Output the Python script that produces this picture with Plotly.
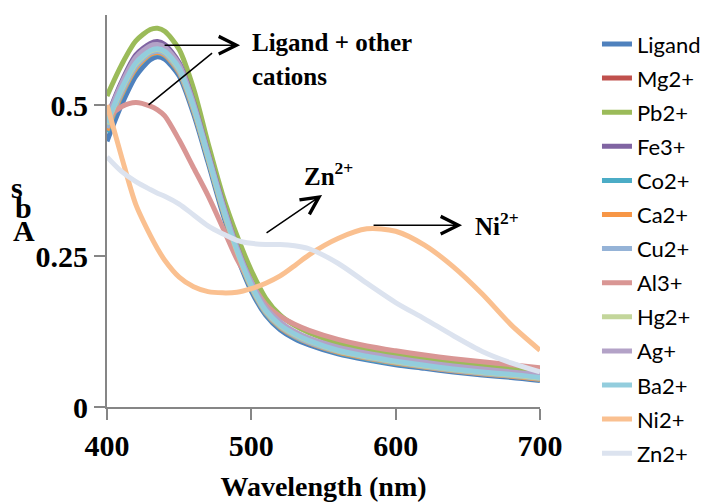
import plotly.graph_objects as go

# Wavelength grid (nm)
wavelength = [400, 410, 420, 430, 435, 440, 450, 460, 470, 480, 490, 500, 510,
              520, 530, 540, 560, 580, 600, 620, 640, 660, 680, 700]

# Absorbance spectra
ligand = [0.440, 0.500, 0.548, 0.575, 0.580, 0.576, 0.548, 0.485, 0.405, 0.322, 0.250, 0.192, 0.152,
          0.128, 0.113, 0.103, 0.088, 0.078, 0.070, 0.064, 0.058, 0.053, 0.049, 0.044]
mg = [0.465, 0.522, 0.566, 0.588, 0.591, 0.587, 0.558, 0.495, 0.413, 0.330, 0.257, 0.199, 0.158,
      0.134, 0.119, 0.108, 0.093, 0.083, 0.075, 0.068, 0.062, 0.057, 0.053, 0.048]
pb = [0.515, 0.566, 0.606, 0.625, 0.627, 0.622, 0.592, 0.527, 0.437, 0.352, 0.284, 0.226, 0.180,
      0.152, 0.135, 0.123, 0.106, 0.096, 0.088, 0.081, 0.075, 0.070, 0.065, 0.060]
fe = [0.480, 0.538, 0.583, 0.602, 0.605, 0.600, 0.570, 0.505, 0.422, 0.340, 0.266, 0.207, 0.164,
      0.139, 0.123, 0.112, 0.097, 0.087, 0.079, 0.072, 0.066, 0.061, 0.056, 0.052]
co = [0.455, 0.515, 0.560, 0.583, 0.586, 0.582, 0.553, 0.490, 0.410, 0.327, 0.254, 0.196, 0.155,
      0.131, 0.116, 0.106, 0.090, 0.080, 0.072, 0.066, 0.060, 0.055, 0.051, 0.046]
ca = [0.458, 0.517, 0.561, 0.584, 0.587, 0.583, 0.554, 0.491, 0.411, 0.328, 0.255, 0.197, 0.156,
      0.132, 0.117, 0.106, 0.091, 0.081, 0.073, 0.066, 0.060, 0.055, 0.051, 0.046]
cu = [0.462, 0.520, 0.564, 0.586, 0.589, 0.585, 0.556, 0.493, 0.412, 0.329, 0.256, 0.198, 0.157,
      0.133, 0.118, 0.107, 0.092, 0.082, 0.074, 0.067, 0.061, 0.056, 0.052, 0.047]
al = [0.478, 0.497, 0.504, 0.498, 0.492, 0.482, 0.442, 0.396, 0.350, 0.298, 0.245, 0.205, 0.170,
      0.150, 0.137, 0.127, 0.112, 0.101, 0.093, 0.086, 0.080, 0.075, 0.070, 0.065]
hg = [0.468, 0.525, 0.568, 0.589, 0.592, 0.588, 0.559, 0.496, 0.414, 0.331, 0.258, 0.200, 0.159,
      0.135, 0.120, 0.109, 0.093, 0.083, 0.075, 0.068, 0.062, 0.057, 0.053, 0.048]
ag = [0.478, 0.535, 0.579, 0.598, 0.600, 0.596, 0.567, 0.503, 0.420, 0.338, 0.265, 0.207, 0.165,
      0.141, 0.125, 0.114, 0.099, 0.089, 0.081, 0.074, 0.068, 0.063, 0.058, 0.054]
ba = [0.470, 0.527, 0.570, 0.590, 0.593, 0.589, 0.561, 0.498, 0.416, 0.333, 0.260, 0.202, 0.160,
      0.136, 0.121, 0.110, 0.094, 0.084, 0.076, 0.069, 0.063, 0.058, 0.054, 0.049]
ni = [0.500, 0.415, 0.335, 0.284, 0.262, 0.243, 0.215, 0.199, 0.191, 0.189, 0.190, 0.196, 0.205,
      0.217, 0.234, 0.252, 0.279, 0.295, 0.291, 0.268, 0.232, 0.187, 0.136, 0.094]
zn = [0.414, 0.390, 0.373, 0.360, 0.354, 0.349, 0.336, 0.318, 0.300, 0.287, 0.276, 0.271, 0.269,
      0.269, 0.267, 0.262, 0.238, 0.205, 0.173, 0.146, 0.118, 0.092, 0.073, 0.058]

series_names = ["Ligand", "Mg2+", "Pb2+", "Fe3+", "Co2+", "Ca2+", "Cu2+",
                "Al3+", "Hg2+", "Ag+", "Ba2+", "Ni2+", "Zn2+"]
series_values = [ligand, mg, pb, fe, co, ca, cu, al, hg, ag, ba, ni, zn]
series_colors = ["#4F81BD", "#C0504D", "#9BBB59", "#8064A2", "#4BACC6", "#F79646", "#95B3D7",
                 "#D99694", "#C3D69B", "#B3A2C7", "#93CDDD", "#FAC090", "#DCE3EF"]

SERIF = "Liberation Serif"
AXIS_GREY = "#868686"

fig = go.Figure()
for i, (name, vals, col) in enumerate(zip(series_names, series_values, series_colors)):
    fig.add_trace(go.Scatter(
        x=wavelength, y=vals, name=name, mode="lines",
        line=dict(color=col, width=5, shape="spline", smoothing=0.8),
        legendgroup=f"g{i}",
    ))

axis_common = dict(
    showgrid=False, zeroline=False, showline=True, linecolor=AXIS_GREY, linewidth=2,
    ticks="outside", ticklen=11, tickwidth=2, tickcolor=AXIS_GREY,
    tickfont=dict(family=SERIF, size=30, color="black", weight="bold"),
    automargin=False,
)

fig.update_xaxes(range=[400, 700], tickvals=[400, 500, 600, 700],
                 title=dict(text="Wavelength (nm)", standoff=15,
                            font=dict(family=SERIF, size=28, color="black", weight="bold")),
                 **axis_common)
fig.update_yaxes(range=[0, 0.649], tickvals=[0, 0.25, 0.5], ticktext=["0", "0.25", "0.5"],
                 **axis_common)

ann_font = dict(family=SERIF, size=25, color="black", weight="bold")
annotations = [
    # arrows
    dict(x=492.2, y=0.599, ax=-77, ay=0, text="", showarrow=True, arrowhead=5,
         arrowsize=2.3, arrowwidth=1.5, arrowcolor="black"),
    dict(x=472.8, y=0.586, ax=-65, ay=53, text="", showarrow=True, arrowhead=0,
         arrowwidth=1.5, arrowcolor="black"),
    dict(x=549.0, y=0.351, ax=-57, ay=39, text="", showarrow=True, arrowhead=5,
         arrowsize=2.3, arrowwidth=1.5, arrowcolor="black"),
    dict(x=646.0, y=0.301, ax=-90, ay=0, text="", showarrow=True, arrowhead=5,
         arrowsize=2.3, arrowwidth=1.5, arrowcolor="black"),
    # labels
    dict(x=499.1, y=0.604, text="Ligand + other", showarrow=False, xanchor="left",
         yanchor="middle", font=ann_font),
    dict(x=499.1, y=0.548, text="cations", showarrow=False, xanchor="left",
         yanchor="middle", font=ann_font),
    dict(x=535.1, y=0.386, text="Zn<sup>2+</sup>", showarrow=False, xanchor="left",
         yanchor="middle", font=ann_font),
    dict(x=653.6, y=0.303, text="Ni<sup>2+</sup>", showarrow=False, xanchor="left",
         yanchor="middle", font=ann_font),
]

# y-axis title drawn as stacked letters
ylab_font = dict(family=SERIF, size=30, color="black", weight="bold")
for ch, px, py in [("s", 17, 187), ("b", 23, 207), ("A", 24, 230)]:
    annotations.append(dict(xref="paper", yref="paper", x=(px - 107) / 433, y=(407 - py) / 392,
                            text=ch, showarrow=False, xanchor="center", yanchor="middle",
                            font=ylab_font))

fig.update_layout(
    width=709, height=504,
    margin=dict(l=107, r=169, t=15, b=97, autoexpand=False),
    paper_bgcolor="white", plot_bgcolor="white",
    annotations=annotations,
    legend=dict(xref="container", yref="container", x=0.842, xanchor="left",
                y=0.954, yanchor="top", maxheight=1.0,
                font=dict(family="Lato", size=22, color="black"),
                traceorder="grouped", tracegroupgap=2.5, bgcolor="rgba(0,0,0,0)"),
)

fig.write_html("out.html")
